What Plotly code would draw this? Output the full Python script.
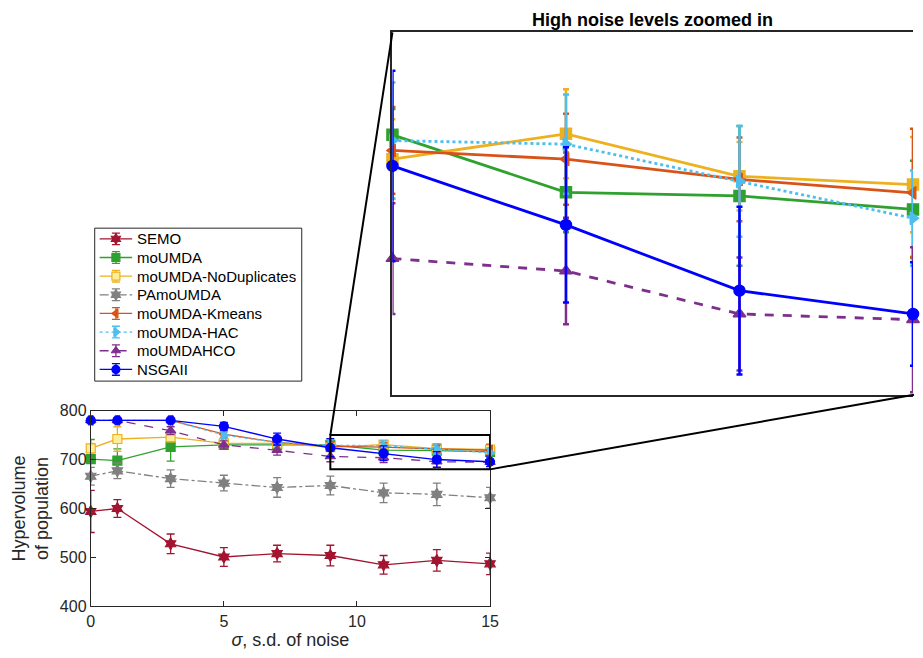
import plotly.graph_objects as go

W, H = 923, 658

# ---------------- data ----------------
noise = [0, 1, 3, 5, 7, 9, 11, 13, 15]
names = ["SEMO", "moUMDA", "moUMDA-NoDuplicates", "PAmoUMDA",
         "moUMDA-Kmeans", "moUMDA-HAC", "moUMDAHCO", "NSGAII"]

semo_mean = [594, 600, 528, 501, 508, 504, 485, 494, 487]
semo_err = [43, 18, 20, 19, 17, 21, 19, 22, 22]
moumda_mean = [701, 698, 726, 730, 730, 730.2, 719.1, 718.4, 715.8]
moumda_err = [40, 24, 29, 5, 5, 5, 7.7, 13.5, 9.4]
nodup_mean = [723, 742, 746, 733, 733, 725.5, 730.4, 722.2, 720.6]
nodup_err = [10, 25, 10, 5, 5, 7.7, 8.6, 6.6, 9.2]
pamo_mean = [666, 677, 661, 652, 643, 647, 632, 629, 622]
pamo_err = [18, 16, 18, 16, 20, 19, 20, 23, 21]
kmeans_mean = [780, 780, 780, 752, 735, 727.2, 725.5, 721.6, 719]
kmeans_err = [3, 3, 3, 6, 6, 8.4, 8.8, 8.1, 12.4]
hac_mean = [780, 780, 780, 750, 735, 729.1, 728.4, 721.2, 714.1]
hac_err = [3, 3, 3, 6, 6, 11.2, 9.6, 10.7, 9.2]
hco_mean = [780, 780, 759, 730, 719, 706.3, 703.9, 695.6, 694.5]
hco_err = [3, 3, 8, 8, 10, 10.7, 10.3, 10.9, 14]
nsga_mean = [780, 780, 780, 768, 742, 724.2, 712.8, 700.1, 695.6]
nsga_err = [3, 3, 3, 8, 12, 18.4, 15, 16.2, 10]

main_xticks = [0, 5, 10, 15]
main_yticks = [400, 500, 600, 700, 800]
zoom_x = [9, 15]
zoom_y = [680, 750]

means = [semo_mean, moumda_mean, nodup_mean, pamo_mean, kmeans_mean, hac_mean, hco_mean, nsga_mean]
errs = [semo_err, moumda_err, nodup_err, pamo_err, kmeans_err, hac_err, hco_err, nsga_err]

# ---------------- styles ----------------
colors = ["#A2142F", "#2FA12F", "#EDB120", "#808080", "#D95319", "#4DBEEE", "#7E2F8E", "#0000FF"]
symbols = ["hexagram", "square", "square", "hexagram", "triangle-left", "triangle-right", "triangle-up", "circle"]
dashes = ["solid", "solid", "solid", "dashdot", "solid", "dot", "dash", "solid"]
fills = ["#A2142F", "#2FA12F", "#FFEE99", "#808080", "#D95319", "#4DBEEE", "#7E2F8E", "#0000FF"]

AX = "#262626"
FONT = "Liberation Sans, Arial, sans-serif"

# pixel layout
main_px = (88, 493, 413.3, 614.3)   # left, right, top, bottom
inset_px = (394, 922, 25, 397)
legend_px = (92, 302, 226, 383)

def dom_x(l, r):
    return [l / W, r / W]

def dom_y(t, b):
    return [1 - b / H, 1 - t / H]

mx = dom_x(main_px[0], main_px[1])
my = dom_y(main_px[2], main_px[3])
ix = dom_x(inset_px[0], inset_px[1])
iy = dom_y(inset_px[2], inset_px[3])
lx = dom_x(legend_px[0], legend_px[1])
ly = dom_y(legend_px[2], legend_px[3])

fig = go.Figure()

# main traces
for i in range(len(names)):
    fig.add_trace(go.Scatter(
        x=noise, y=means[i], name=names[i], mode="lines+markers",
        line=dict(color=colors[i], width=1.3, dash=dashes[i]),
        marker=dict(symbol=symbols[i], size=9, color=fills[i],
                    line=dict(color=colors[i], width=1.2)),
        error_y=dict(type="data", array=errs[i], color=colors[i], thickness=1.3, width=4),
        cliponaxis=False, xaxis="x", yaxis="y", showlegend=False,
    ))

# inset traces (high noise subset)
sel = [k for k, v in enumerate(noise) if v >= zoom_x[0]]
for i in range(len(names)):
    if i in (0, 3):
        continue
    fig.add_trace(go.Scatter(
        x=[noise[k] for k in sel], y=[means[i][k] for k in sel], mode="lines+markers",
        line=dict(color=colors[i], width=2.8, dash=dashes[i]),
        marker=dict(symbol=symbols[i], size=11, color=fills[i] if i != 2 else colors[i],
                    line=dict(color=colors[i], width=1.5)),
        error_y=dict(type="data", array=[errs[i][k] for k in sel], color=colors[i],
                     thickness=2.5, width=3),
        cliponaxis=False, xaxis="x2", yaxis="y2", showlegend=False,
    ))

# custom legend (own pixel-unit axes)
row0, row_h = 237, 19.14
for i in range(len(names)):
    yc = row0 + row_h * i
    fig.add_trace(go.Scatter(
        x=[97, 130], y=[yc, yc], mode="lines",
        line=dict(color=colors[i], width=1.3, dash=dashes[i] if dashes[i] != "dot" else "dot"),
        xaxis="x3", yaxis="y3", showlegend=False, hoverinfo="skip", cliponaxis=False,
    ))
    fig.add_trace(go.Scatter(
        x=[113.5], y=[yc], mode="markers",
        marker=dict(symbol=symbols[i], size=8, color=fills[i], line=dict(color=colors[i], width=1.2)),
        error_y=dict(type="data", array=[6], color=colors[i], thickness=1.3, width=4),
        xaxis="x3", yaxis="y3", showlegend=False, hoverinfo="skip", cliponaxis=False,
    ))
    fig.add_annotation(text=names[i], xref="x3", yref="y3", x=132.5, y=yc,
                       xanchor="left", yanchor="middle", showarrow=False,
                       font=dict(family=FONT, size=15, color="black"))

fig.add_shape(type="rect", xref="paper", yref="paper", x0=lx[0], x1=lx[1], y0=ly[0], y1=ly[1],
              line=dict(color=AX, width=1), fillcolor="white", layer="below")

axis_common = dict(showgrid=False, zeroline=False, showline=True, linecolor=AX, linewidth=1,
                   ticks="inside", ticklen=5, tickcolor=AX, mirror="ticks",
                   tickfont=dict(family=FONT, size=16, color=AX))

fig.update_layout(
    width=W, height=H, margin=dict(l=0, r=0, t=0, b=0),
    paper_bgcolor="white", plot_bgcolor="rgba(0,0,0,0)",
    font=dict(family=FONT, color=AX),
    showlegend=False,
    xaxis=dict(domain=mx, range=[0, 15], tickvals=main_xticks, anchor="y",
               title=dict(text="<i>σ</i>, s.d. of noise", font=dict(size=18, color=AX), standoff=2),
               **axis_common),
    yaxis=dict(domain=my, range=[400, 800], tickvals=main_yticks, anchor="x",
               title=dict(text="Hypervolume<br>of population", font=dict(size=18, color=AX), standoff=6),
               **axis_common),
    xaxis2=dict(domain=ix, range=zoom_x, anchor="y2", showgrid=False, zeroline=False,
                showticklabels=False, ticks="", showline=True, mirror=True,
                linecolor=AX, linewidth=2),
    yaxis2=dict(domain=iy, range=zoom_y, anchor="x2", showgrid=False, zeroline=False,
                showticklabels=False, ticks="", showline=True, mirror=False,
                linecolor=AX, linewidth=2),
    xaxis3=dict(domain=lx, range=[legend_px[0], legend_px[1]], anchor="y3", visible=False, fixedrange=True),
    yaxis3=dict(domain=ly, range=[legend_px[3], legend_px[2]], anchor="x3", visible=False, fixedrange=True),
)

# zoom rectangle on main axes
fig.add_shape(type="rect", xref="x", yref="y", x0=zoom_x[0], x1=zoom_x[1],
              y0=zoom_y[0], y1=zoom_y[1], line=dict(color="black", width=2))

def to_paper(xv, yv):
    px = mx[0] + (xv - 0) / 15 * (mx[1] - mx[0])
    py = my[0] + (yv - 400) / 400 * (my[1] - my[0])
    return px, py

p1 = to_paper(zoom_x[0], zoom_y[1])
p2 = to_paper(zoom_x[1], zoom_y[0])
fig.add_shape(type="line", xref="paper", yref="paper", x0=p1[0], y0=p1[1], x1=ix[0], y1=iy[1],
              line=dict(color="black", width=2))
fig.add_shape(type="line", xref="paper", yref="paper", x0=p2[0], y0=p2[1], x1=1.0, y1=iy[0],
              line=dict(color="black", width=2))

fig.add_annotation(text="<b>High noise levels zoomed in</b>", xref="paper", yref="paper",
                   x=(ix[0] + ix[1]) / 2, y=1 - 12 / H, xanchor="center", yanchor="middle",
                   showarrow=False, font=dict(family=FONT, size=18, color="black"))

fig.write_html("out.html")
